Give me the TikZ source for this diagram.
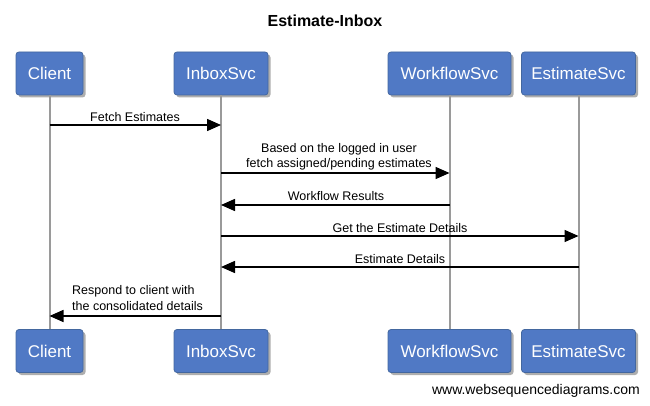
\documentclass[tikz,border=0pt]{standalone}
\usepackage{fontspec}
\setmainfont{Liberation Sans}
\usetikzlibrary{arrows.meta,shadows}
\definecolor{boxblue}{HTML}{5079C5}
\definecolor{boxedge}{HTML}{43679F}
\definecolor{lifegray}{HTML}{9A9A9A}
\tikzset{
  actor/.style={draw=boxedge, line width=0.8pt, fill=boxblue, rounded corners=3pt,
    text=white, font=\fontsize{17}{20}\selectfont, inner sep=0pt,
    drop shadow={shadow xshift=2.5pt, shadow yshift=-2.5pt, opacity=0.45, fill=black!70}},
  lifeline/.style={draw=lifegray, line width=2pt},
  msgline/.style={draw=black, line width=1.5pt, -{Triangle[length=14pt,width=12pt]}},
  msg/.style={font=\fontsize{12.5}{15.5}\selectfont, inner sep=0pt, align=center}
}
\begin{document}
\begin{tikzpicture}[x=1pt,y=-1pt]
\useasboundingbox[fill=white] (0,0) rectangle (650,406);
\node[font=\bfseries\fontsize{16}{19}\selectfont] (title) at (325,21) {Estimate-Inbox};
% top actors
\node[actor, minimum width=67pt, minimum height=43pt] (ct) at (49.5,73.5) {Client};
\node[actor, minimum width=94pt, minimum height=43pt] (it) at (221,73.5) {InboxSvc};
\node[actor, minimum width=123pt, minimum height=43pt] (wt) at (449.5,73.5) {WorkflowSvc};
\node[actor, minimum width=114pt, minimum height=43pt] (et) at (578.5,73.5) {EstimateSvc};
% bottom actors
\node[actor, minimum width=67pt, minimum height=43pt] (cb) at (49.5,351) {Client};
\node[actor, minimum width=94pt, minimum height=43pt] (ib) at (221,351) {InboxSvc};
\node[actor, minimum width=123pt, minimum height=43pt] (wb) at (449.5,351) {WorkflowSvc};
\node[actor, minimum width=114pt, minimum height=43pt] (eb) at (578.5,351) {EstimateSvc};
% lifelines
\draw[lifeline] (ct.south) -- (cb.north);
\draw[lifeline] (it.south) -- (ib.north);
\draw[lifeline] (wt.south) -- (wb.north);
\draw[lifeline] (et.south) -- (eb.north);
% message coordinates
\coordinate (c1) at (ct.south |- 0,125);
\coordinate (i1) at (it.south |- 0,125);
\coordinate (i2) at (it.south |- 0,173);
\coordinate (w2) at (wt.south |- 0,173);
\coordinate (w3) at (wt.south |- 0,205);
\coordinate (i3) at (it.south |- 0,205);
\coordinate (i4) at (it.south |- 0,236);
\coordinate (e4) at (et.south |- 0,236);
\coordinate (e5) at (et.south |- 0,267);
\coordinate (i5) at (it.south |- 0,267);
\coordinate (i6) at (it.south |- 0,316);
\coordinate (c6) at (ct.south |- 0,316);
\draw[msgline] (c1) -- (i1);
\draw[msgline] (i2) -- (w2);
\draw[msgline] (w3) -- (i3);
\draw[msgline] (i4) -- (e4);
\draw[msgline] (e5) -- (i5);
\draw[msgline] (i6) -- (c6);
% labels
\node[msg] (l1) at (135,117) {Fetch Estimates};
\node[msg] (l2) at (339,157) {Based on the logged in user\\fetch assigned/pending estimates};
\node[msg] (l3) at (336,196) {Workflow Results};
\node[msg] (l4) at (400,228) {Get the Estimate Details};
\node[msg] (l5) at (400,259) {Estimate Details};
\node[msg, align=left, anchor=west] (l6) at (72,298) {Respond to client with\\the consolidated details};
\node[font=\fontsize{14}{17}\selectfont, anchor=east, inner sep=0pt] (wsd) at (640,391) {www.websequencediagrams.com};
\end{tikzpicture}
\end{document}
